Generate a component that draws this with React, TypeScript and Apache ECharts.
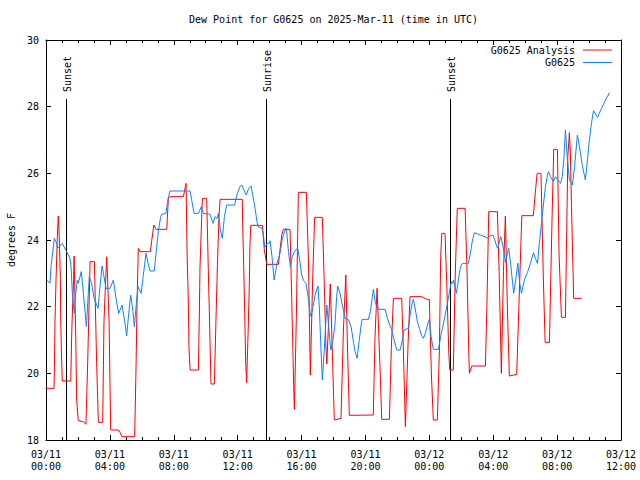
import React, { useEffect, useRef } from "react";
import * as echarts from "echarts";

// Hours since 2025-03-11 00:00 UTC
const xTickLabels = [
  "03/11\n00:00", "03/11\n04:00", "03/11\n08:00", "03/11\n12:00", "03/11\n16:00",
  "03/11\n20:00", "03/12\n00:00", "03/12\n04:00", "03/12\n08:00", "03/12\n12:00",
];

const sunHours = [1.25, 13.79, 25.32];
const sunLabels = ["Sunset", "Sunrise", "Sunset"];
const sunLineTop = 28.23;

const analysisName = "G0625 Analysis";
const stationName = "G0625";

const analysisPoints: number[][] = [
  [0.00,19.55],[0.50,19.55],[0.53,20.2],[0.56,21.5],[0.63,22.85],[0.71,24.1],[0.77,24.72],[0.83,24.1],[0.90,22.85],[0.92,21.6],[0.98,20.4],[1.02,19.77],
  [1.55,19.77],[1.61,21.18],[1.67,22.1],[1.73,22.8],[1.76,23.52],[1.86,21.18],[1.92,19.2],[2.02,18.58],[2.34,18.55],[2.50,18.47],
  [2.61,20.32],[2.67,21.55],[2.76,23.35],[3.03,23.35],[3.17,20.32],[3.28,18.53],[3.55,18.53],[3.63,21.55],[3.74,22.85],[3.80,23.5],
  [3.86,22.8],[3.95,21.55],[4.03,18.93],[4.05,18.3],[4.53,18.3],[4.63,18.23],[4.76,18.1],[5.55,18.1],[5.64,20.25],[5.70,22.1],[5.78,23.75],
  [5.89,23.65],[6.53,23.65],[6.68,24.2],[6.76,24.45],[6.89,24.32],[7.56,24.32],[7.66,25.25],[7.76,25.3],[8.60,25.3],[8.77,25.7],
  [8.83,23.65],[8.91,22.2],[8.95,20.8],[9.02,20.1],[9.54,20.1],[9.60,21.75],[9.64,23.15],[9.73,24.45],[9.79,25.25],[10.06,25.25],
  [10.16,23.15],[10.23,21.75],[10.33,19.68],[10.54,19.68],[10.65,21.75],[10.73,23.2],[10.83,24.7],[10.90,25.22],[12.29,25.22],
  [12.31,24.55],[12.38,23.17],[12.44,21.8],[12.50,20.4],[12.56,19.72],[12.60,20.35],[12.67,21.5],[12.73,22.7],[12.77,23.85],[12.82,24.44],
  [13.55,24.44],[13.67,23.7],[13.82,23.27],[14.55,23.27],[14.76,24.15],[14.86,24.32],[15.28,24.32],[15.38,22.3],[15.51,19.6],[15.55,18.92],
  [15.67,21.6],[15.80,25.43],[16.30,25.43],[16.43,23.4],[16.55,19.95],[16.70,22.9],[16.82,24.68],[17.30,24.68],[17.41,22.9],[17.53,20.75],
  [17.58,20.28],[17.80,22.68],[17.93,20.6],[18.05,18.6],[18.47,18.65],[18.62,21.3],[18.77,22.95],[18.89,20.5],[18.99,18.74],[20.49,18.75],
  [20.60,21.1],[20.73,22.55],[20.91,20.2],[21.02,18.62],[21.50,18.62],[21.62,20.75],[21.75,22.25],[22.27,22.25],[22.37,20.8],[22.50,18.4],
  [22.67,20.9],[22.79,22.3],[23.52,22.3],[23.84,22.22],[24.00,22.22],[24.13,19.95],[24.25,18.6],[24.50,18.6],[24.63,20.7],[24.71,23.5],
  [24.78,24.2],[24.98,24.2],[25.09,22.7],[25.22,20.6],[25.28,20.1],[25.50,20.1],[25.63,23.1],[25.75,24.95],[26.24,24.95],[26.36,23.1],
  [26.47,20.6],[26.51,20.0],[26.66,20.22],[27.51,20.22],[27.60,21.95],[27.72,24.85],[28.26,24.85],[28.37,23.05],[28.51,20.0],[28.64,23.05],
  [28.76,24.72],[28.89,21.9],[29.01,19.92],[29.47,19.97],[29.68,23.1],[29.79,24.73],[30.51,24.73],[30.66,25.55],[30.75,26.0],[30.99,26.0],
  [31.14,22.8],[31.25,20.93],[31.52,20.93],[31.68,24.6],[31.79,26.72],[32.02,26.72],[32.12,23.6],[32.27,21.68],[32.52,21.68],[32.67,26.5],
  [32.77,27.22],[32.83,26.6],[32.90,25.0],[33.00,23.0],[33.04,22.25],[33.54,22.25],
];

const stationPoints: number[][] = [
  [0.00,22.82],[0.25,22.70],[0.31,23.18],[0.40,23.55],[0.52,24.05],[0.67,23.90],[0.73,23.75],[0.92,23.85],[1.02,23.90],[1.23,23.70],
  [1.40,23.55],[1.50,23.45],[1.57,23.20],[1.65,22.40],[1.77,21.80],[1.84,22.30],[1.96,22.80],[2.02,22.70],[2.21,23.05],[2.34,22.40],
  [2.53,21.40],[2.65,22.40],[2.71,22.90],[2.86,22.70],[3.01,22.25],[3.26,21.95],[3.38,22.60],[3.51,23.22],[3.63,22.90],[3.76,22.55],
  [4.01,22.55],[4.22,22.80],[4.40,22.20],[4.55,21.80],[4.76,22.05],[4.93,21.55],[5.05,21.12],[5.18,21.80],[5.30,22.35],[5.45,21.85],
  [5.53,21.40],[5.66,22.10],[5.76,22.60],[5.95,22.40],[6.07,22.85],[6.26,23.60],[6.39,23.30],[6.51,23.07],[6.78,23.07],[6.91,23.70],
  [7.03,24.25],[7.18,24.70],[7.24,24.77],[7.51,24.80],[7.64,25.22],[7.76,25.47],[9.02,25.47],[9.14,25.15],[9.27,24.80],[9.54,24.80],
  [9.73,25.00],[9.85,24.80],[10.27,24.77],[10.46,24.50],[10.58,24.70],[10.71,24.65],[10.79,24.80],[10.92,24.30],[11.04,24.05],[11.17,24.70],
  [11.31,25.05],[11.81,25.05],[11.98,25.40],[12.15,25.60],[12.25,25.65],[12.54,25.35],[12.69,25.55],[12.84,25.62],[12.96,25.30],[13.09,24.95],
  [13.21,24.55],[13.27,24.40],[13.52,24.35],[13.59,24.20],[13.71,23.78],[13.84,23.90],[13.97,23.90],[14.03,23.98],[14.15,23.50],[14.28,22.80],
  [14.34,22.95],[14.46,23.30],[14.65,23.60],[14.78,24.00],[14.90,24.20],[15.03,24.35],[15.07,24.25],[15.18,23.65],[15.30,23.20],[15.42,23.50],
  [15.61,23.70],[15.76,23.75],[15.88,23.40],[16.01,22.95],[16.13,22.78],[16.28,22.70],[16.41,22.30],[16.53,21.80],[16.60,21.70],[16.72,22.00],
  [16.85,22.35],[17.03,22.62],[17.12,21.90],[17.20,20.90],[17.30,19.80],[17.41,20.60],[17.54,21.70],[17.58,22.05],[17.70,21.40],[17.83,20.70],
  [17.95,20.95],[18.08,21.40],[18.20,22.30],[18.26,22.62],[18.41,22.40],[18.53,22.10],[18.72,21.65],[18.95,21.60],[19.10,21.40],[19.23,21.00],
  [19.35,20.65],[19.48,20.45],[19.60,20.95],[19.73,21.45],[19.79,21.62],[20.18,21.62],[20.31,21.85],[20.43,22.30],[20.50,22.52],[20.62,22.10],
  [20.75,22.00],[20.83,21.92],[21.23,21.92],[21.35,21.70],[21.48,21.50],[21.64,21.32],[21.77,21.05],[21.90,20.80],[21.96,20.70],[22.17,20.70],
  [22.29,20.95],[22.42,21.30],[22.69,21.35],[22.81,21.80],[22.94,22.15],[23.00,22.22],[23.13,21.90],[23.25,21.55],[23.38,21.35],[23.50,21.15],
  [23.63,21.05],[23.75,21.20],[23.88,21.45],[24.00,21.62],[24.11,21.10],[24.25,20.72],[24.57,20.72],[24.75,21.20],[24.94,21.62],[25.13,22.10],
  [25.32,22.60],[25.38,22.75],[25.45,22.70],[25.51,22.80],[25.70,22.40],[25.82,22.80],[25.95,23.20],[26.07,23.30],[26.45,23.30],[26.57,23.60],
  [26.70,24.00],[26.83,24.22],[27.18,24.15],[27.49,24.10],[27.66,24.05],[27.80,24.12],[27.97,24.15],[28.09,24.02],[28.22,23.80],[28.28,23.75],
  [28.47,24.10],[28.60,23.85],[28.78,23.32],[28.91,23.65],[28.97,23.75],[29.10,23.25],[29.28,22.40],[29.41,22.80],[29.54,23.30],[29.66,22.70],
  [29.77,22.40],[29.95,22.80],[30.14,23.02],[30.33,23.30],[30.52,23.62],[30.64,23.45],[30.77,23.30],[30.89,23.90],[31.02,24.50],[31.14,25.05],
  [31.27,25.60],[31.40,25.95],[31.46,26.05],[31.59,25.90],[31.77,25.75],[31.90,25.90],[32.02,25.82],[32.21,25.70],[32.32,25.90],[32.42,26.40],
  [32.52,27.30],[32.65,26.40],[32.77,25.80],[32.96,25.65],[33.09,26.20],[33.27,27.15],[33.40,26.80],[33.59,26.20],[33.77,25.80],[33.90,26.40],
  [34.02,27.00],[34.15,27.50],[34.28,27.88],[34.53,27.68],[34.78,27.95],[35.03,28.20],[35.28,28.42],
];

const FONT = '"DejaVu Sans Mono", "Liberation Mono", monospace';

export default function App() {
  const ref = useRef<HTMLDivElement>(null);
  useEffect(() => {
    if (!ref.current) return;
    const chart = echarts.init(ref.current, null, { renderer: "svg" });
    const xBase = {
      type: "value" as const,
      min: 0,
      max: 36,
      interval: 4,
      splitLine: { show: false },
      axisLine: { show: true, onZero: false, lineStyle: { color: "#000", width: 1 } },
      axisTick: { show: true, inside: true, length: 5, lineStyle: { color: "#000" } },
      minorTick: { show: true, splitNumber: 4, length: 3, lineStyle: { color: "#000" } },
    };
    const yBase = {
      type: "value" as const,
      min: 18,
      max: 30,
      interval: 2,
      splitLine: { show: false },
      axisLine: { show: true, onZero: false, lineStyle: { color: "#000", width: 1 } },
      axisTick: { show: true, inside: true, length: 5, lineStyle: { color: "#000" } },
    };
    chart.setOption({
      animation: false,
      backgroundColor: "#fff",
      grid: { left: 46, right: 19, top: 40, bottom: 40, containLabel: false, outerBoundsMode: "none" },
      graphic: [
        {
          type: "text",
          x: 333.5,
          y: 19,
          style: {
            text: "Dew Point for G0625 on 2025-Mar-11 (time in UTC)",
            font: `10px ${FONT}`,
            fill: "#000",
            align: "center",
            verticalAlign: "middle",
          },
        },
      ],
      legend: {
        data: [analysisName, stationName],
        orient: "vertical",
        right: 23,
        top: 39,
        align: "right",
        itemWidth: 29,
        itemHeight: 12,
        itemGap: 0.5,
        icon: "path://M0,0 L29,0 L29,1 L0,1 Z",
        textStyle: { fontFamily: FONT, fontSize: 10, color: "#000", lineHeight: 12, padding: [0, 3, 0, 0] },
        selectedMode: false,
      },
      xAxis: [
        {
          ...xBase,
          position: "bottom",
          axisLabel: {
            show: true,
            color: "#000",
            fontFamily: FONT,
            fontSize: 10,
            lineHeight: 12,
            margin: 8,
            showMinLabel: true,
            showMaxLabel: true,
            formatter: (v: number) => xTickLabels[Math.round(v / 4)] ?? "",
          },
        },
        { ...xBase, position: "top", axisLabel: { show: false } },
      ],
      yAxis: [
        {
          ...yBase,
          position: "left",
          name: "degrees F",
          nameLocation: "middle",
          nameGap: 30,
          nameRotate: 90,
          nameTextStyle: { fontFamily: FONT, fontSize: 10, color: "#000" },
          axisLabel: { show: true, color: "#000", fontFamily: FONT, fontSize: 10, margin: 7 },
        },
        { ...yBase, position: "right", axisLabel: { show: false } },
      ],
      series: [
        {
          type: "custom",
          name: "sun",
          clip: false,
          silent: true,
          data: sunHours.map((h) => [h, sunLineTop]),
          renderItem: (params: any, api: any) => {
            const h = api.value(0);
            const b = api.coord([h, 18]);
            const t = api.coord([h, api.value(1)]);
            return {
              type: "group",
              children: [
                {
                  type: "line",
                  shape: { x1: Math.round(b[0]) + 0.5, y1: b[1], x2: Math.round(t[0]) + 0.5, y2: t[1] },
                  style: { stroke: "#000", lineWidth: 1 },
                },
                {
                  type: "text",
                  x: Math.round(t[0]) + 1,
                  y: t[1] - 7,
                  rotation: Math.PI / 2,
                  style: {
                    text: sunLabels[params.dataIndex],
                    font: `10px ${FONT}`,
                    fill: "#000",
                    align: "left",
                    verticalAlign: "middle",
                  },
                },
              ],
            };
          },
        },
        {
          type: "line",
          name: analysisName,
          data: analysisPoints,
          symbol: "none",
          lineStyle: { color: "#ff0000", width: 1 },
          itemStyle: { color: "#ff0000" },
        },
        {
          type: "line",
          name: stationName,
          data: stationPoints,
          symbol: "none",
          lineStyle: { color: "#0a84ff", width: 1 },
          itemStyle: { color: "#0a84ff" },
        },
      ],
    });
    return () => chart.dispose();
  }, []);
  return (
    <div
      ref={ref}
      style={{ position: "absolute", left: 0, top: 0, width: 640, height: 480, background: "#fff" }}
    />
  );
}
